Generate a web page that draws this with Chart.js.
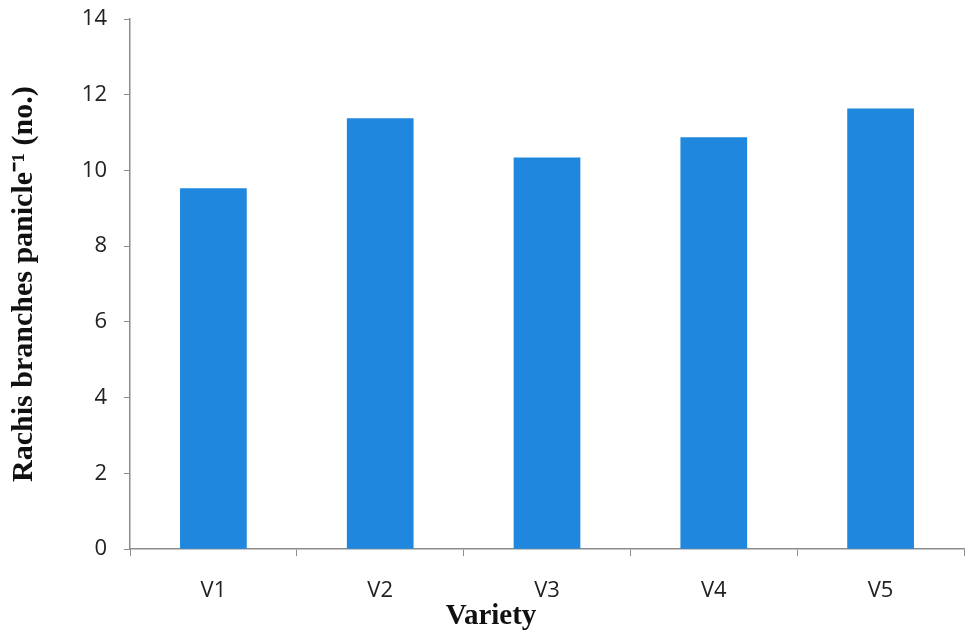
<!DOCTYPE html>
<html>
<head>
<meta charset="utf-8">
<script src="https://cdn.jsdelivr.net/npm/chart.js@4/dist/chart.umd.min.js"></script>
<style>
  html, body { margin: 0; padding: 0; background: #fff; }
  #wrap { width: 966px; height: 644px; }
</style>
</head>
<body>
<div id="wrap"><canvas id="barChart" width="966" height="644"></canvas></div>
<script>
const varieties = ['V1', 'V2', 'V3', 'V4', 'V5']
const rachisBranches = [9.53, 11.38, 10.34, 10.88, 11.64]
const yTicks = [0, 2, 4, 6, 8, 10, 12, 14]

const axisGray = '#8c8c8c'
const serif = "'Liberation Serif', 'Times New Roman', serif"
const sans = "'Open Sans', 'DejaVu Sans', sans-serif"

const ctx = document.getElementById('barChart').getContext('2d')
new Chart(ctx, {
  type: 'bar',
  data: {
    labels: varieties,
    datasets: [{
      label: 'Rachis branches',
      data: rachisBranches,
      backgroundColor: '#1f87de',
      borderWidth: 0,
      barPercentage: 0.4,
      categoryPercentage: 1
    }]
  },
  options: {
    responsive: false,
    animation: false,
    devicePixelRatio: 1,
    layout: { padding: { top: 19, right: 2, left: 18, bottom: 0 } },
    plugins: {
      legend: { display: false },
      tooltip: { enabled: false },
      title: {
        display: true,
        position: 'bottom',
        text: 'Variety',
        color: '#111',
        font: { family: serif, size: 29, weight: 'bold', lineHeight: 1.2 },
        padding: { top: 0, bottom: 10 }
      }
    },
    scales: {
      x: {
        afterFit: scale => { scale.height = 50 },
        border: { display: true, color: axisGray, width: 1.5 },
        grid: { display: true, drawOnChartArea: false, offset: true, tickLength: 7, color: axisGray },
        ticks: { color: '#222', padding: 21, font: { family: sans, size: 22 } }
      },
      y: {
        min: 0,
        max: 14,
        afterFit: scale => {
          scale.width = 112
          // keep the label overhang from pushing the plot down
          scale.paddingTop = 10
          scale.paddingBottom = 10
        },
        afterBuildTicks: scale => { scale.ticks = yTicks.map(v => ({ value: v })) },
        border: { display: true, color: axisGray, width: 1.5 },
        grid: { display: true, drawOnChartArea: false, tickLength: 6, color: axisGray },
        ticks: { color: '#222', padding: 17, font: { family: sans, size: 22 } },
        title: {
          display: true,
          text: 'Rachis branches panicle⁻¹ (no.)',
          color: '#111',
          font: { family: serif, size: 30, weight: 'bold', lineHeight: 1 },
          padding: { top: -9, bottom: 0 }
        }
      }
    }
  }
})
</script>
</body>
</html>
